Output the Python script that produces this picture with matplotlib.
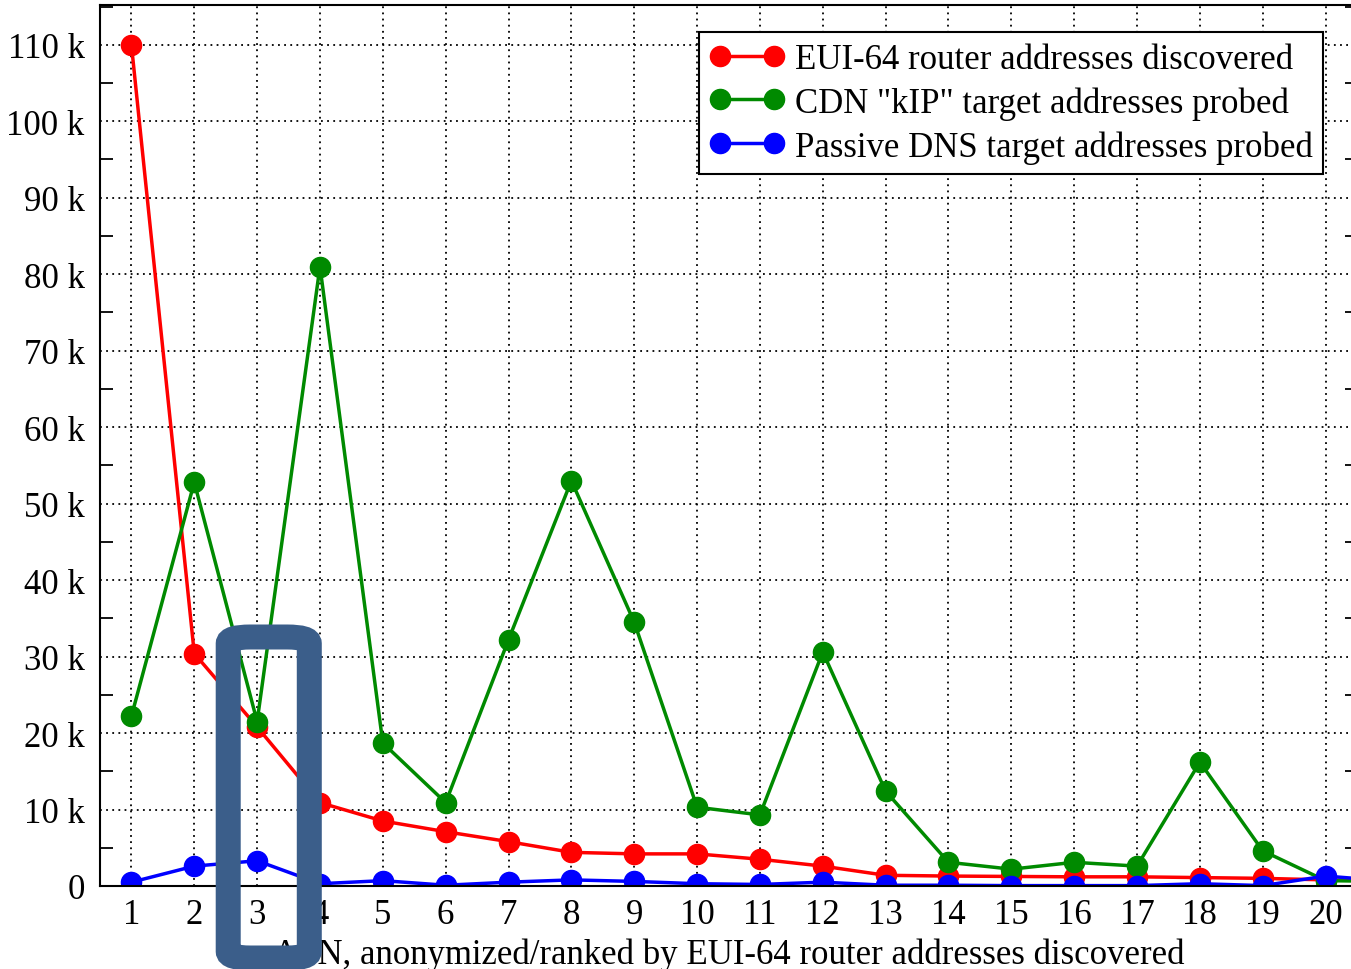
import matplotlib
matplotlib.use("Agg")
import matplotlib.pyplot as plt
from matplotlib.patches import FancyBboxPatch
from matplotlib.ticker import FuncFormatter, MultipleLocator
import matplotlib.transforms as mtransforms

plt.rcParams['font.family'] = ['Liberation Serif', 'DejaVu Serif']

# ASN rank (anonymized), plus the off-scale 21st entry the lines run into
asn_rank = list(range(1, 22))

eui64_discovered = [110000, 30400, 20800, 10900, 8500, 7100, 5800, 4400, 4200, 4200,
                    3500, 2600, 1400, 1300, 1250, 1200, 1200, 1100, 1000, 800, 700]
cdn_kip_probed = [22200, 52800, 21500, 81000, 18700, 10900, 32200, 53000, 34500, 10300,
                  9300, 30600, 12400, 3100, 2200, 3100, 2600, 16200, 4600, 700, 600]
passive_dns_probed = [500, 2600, 3300, 300, 700, 100, 500, 800, 600, 300,
                      200, 500, 100, 100, 50, 50, 50, 300, 50, 1300, 650]

series = [
    ("EUI-64 router addresses discovered", eui64_discovered, "#ff0000"),
    ('CDN "kIP" target addresses probed', cdn_kip_probed, "#008a00"),
    ("Passive DNS target addresses probed", passive_dns_probed, "#0000ff"),
]

xtick_labels = [str(i) for i in range(1, 21)]
highlight_asn = 3

fig = plt.figure(figsize=(13.51, 9.70), dpi=100)
ax = fig.add_axes([100 / 1351, 83 / 970, 1257 / 1351, 881 / 970])

for label, values, color in series:
    ax.plot(asn_rank, values, color=color, lw=2.5, marker='o', ms=14.5,
            label=label, clip_on=True)

ax.set_xlim(0.5, 20.5)
ax.set_ylim(0, 115200)
ax.set_xticks(range(1, 21))
ax.set_xticklabels(xtick_labels)
ax.yaxis.set_major_locator(MultipleLocator(10000))
ax.yaxis.set_minor_locator(MultipleLocator(5000))
ax.yaxis.set_major_formatter(FuncFormatter(lambda v, _: "0" if v == 0 else f"{int(round(v / 1000))} k"))

ax.tick_params(axis='both', which='major', length=0, labelsize=25)
ax.tick_params(axis='y', which='major', pad=11)
ax.tick_params(axis='x', which='major', pad=9)
ax.tick_params(axis='y', which='minor', direction='in', length=9, width=1.3,
               left=True, right=True)

ax.grid(True, which='major', color='black', lw=1.3, linestyle=(0, (1, 2.4)))
for side in ax.spines.values():
    side.set_linewidth(1.5)

ax.set_xlabel("ASN, anonymized/ranked by EUI-64 router addresses discovered",
              fontsize=25, labelpad=4)

leg = ax.legend(loc='upper right', bbox_to_anchor=(0.973, 0.969), borderaxespad=0,
                fontsize=25, numpoints=2, handlelength=2.15, handletextpad=0.3,
                labelspacing=0.3, borderpad=0.3, fancybox=False, framealpha=1,
                edgecolor='black')
leg.get_frame().set_linewidth(1.5)

# highlight box around the third-ranked ASN, spanning down past the axis label
trans = mtransforms.blended_transform_factory(ax.transData, fig.transFigure)
box = FancyBboxPatch((highlight_asn - 0.46, 11 / 970), 1.29, 321 / 970,
                     boxstyle="round,pad=0,rounding_size=0.35",
                     transform=trans, fill=False, edgecolor='#3b5e8a',
                     lw=18, clip_on=False, zorder=10, mutation_aspect=0.02)
fig.add_artist(box)

fig.savefig("out.png", dpi=100)
